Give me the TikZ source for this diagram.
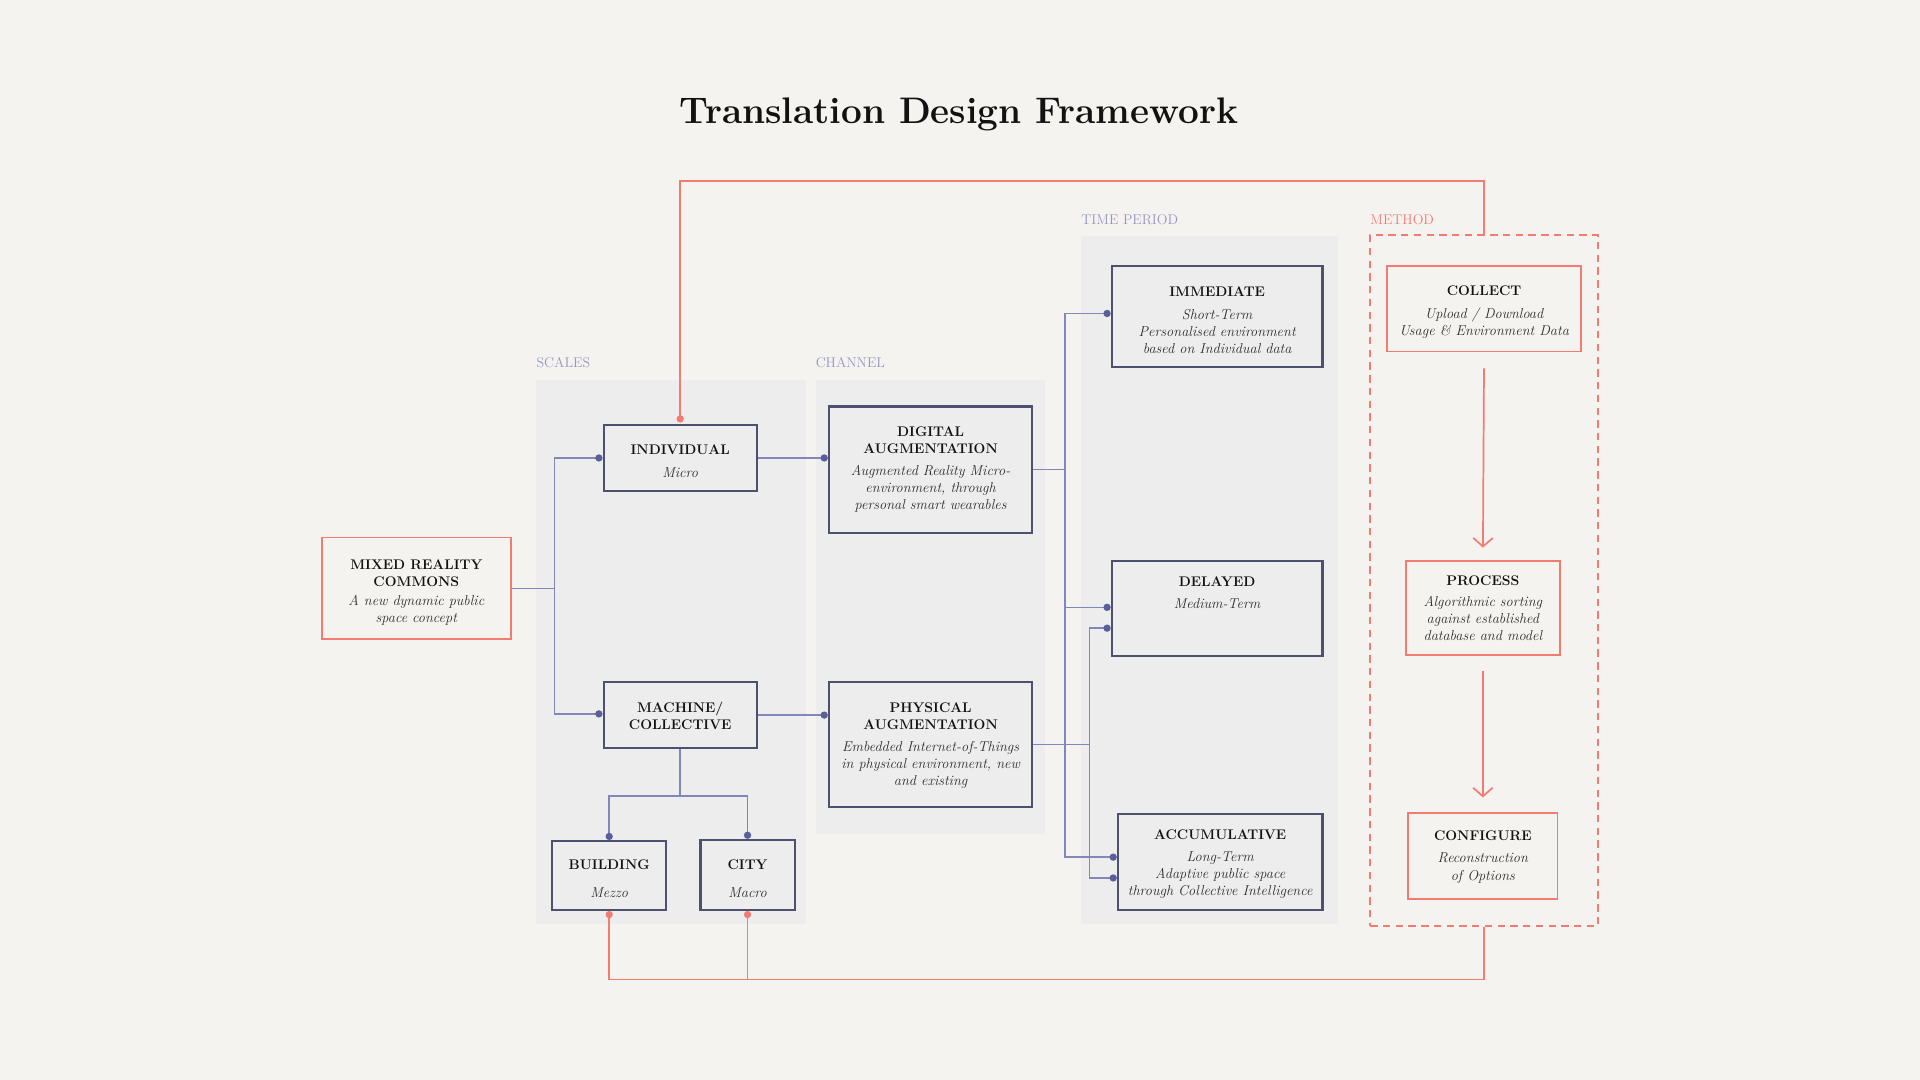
\documentclass[tikz,border=0pt]{standalone}
\usepackage{fontspec}
\usetikzlibrary{calc,arrows.meta}
\definecolor{bg}{HTML}{F4F3F0}
\definecolor{panel}{HTML}{EDEDED}
\definecolor{navy}{HTML}{4E5070}
\definecolor{linec}{HTML}{8386B8}
\definecolor{dotc}{HTML}{5A5E9A}
\definecolor{salmon}{HTML}{F27C72}
\definecolor{labc}{HTML}{9597C0}
\definecolor{ink}{HTML}{121212}
\definecolor{subink}{HTML}{2E2E2E}
\newcommand{\hd}[1]{{\fontsize{11.4}{14}\selectfont\bfseries\color{ink}#1}}
\newcommand{\sub}[1]{{\fontsize{11.7}{14}\selectfont\itshape\color{subink}#1}}
\newcommand{\sh}[1]{\rule{0pt}{\dimexpr7.8pt+#1pt*2\relax}}
\begin{document}
\begin{tikzpicture}[x=1pt,y=-1pt,
  box/.style={draw=navy, line width=1.8pt, fill=panel, align=center, inner sep=0pt, font=\fontsize{11.7}{14}\selectfont},
  rbox/.style={draw=salmon, line width=1.5pt, fill=bg, align=center, inner sep=0pt, font=\fontsize{11.7}{14}\selectfont},
  sz/.style 2 args={minimum width=#1*1pt, minimum height=#2*1pt},
  conn/.style={draw=linec, line width=1.2pt},
  rconn/.style={draw=salmon, line width=1.4pt},
  plabel/.style={anchor=base west, font=\fontsize{11.5}{14}\selectfont, inner sep=0pt},
  tip/.style={-{Straight Barb[length=7pt,width=16pt]}},
]
\useasboundingbox (0,0) rectangle (1568,882);
\fill[bg] (0,0) rectangle (1568,882);

% title
\node[font=\fontsize{30.2}{34}\selectfont\bfseries, text=ink, inner sep=0pt, anchor=base] (title) at (783,101) {Translation Design Framework};

% panels
\fill[panel] (438,310) rectangle (658,755);
\fill[panel] (666,310) rectangle (853,681);
\fill[panel] (883,193) rectangle (1093,755);
\node[plabel, text=labc] (lscales) at (438,300) {SCALES};
\node[plabel, text=labc] (lchannel) at (666,300) {CHANNEL};
\node[plabel, text=labc] (ltime) at (883,183) {TIME PERIOD};
\node[plabel, text=salmon] (lmethod) at (1119,183) {METHOD};

% method frame
\node[draw=salmon, dash pattern=on 6pt off 4.4pt, line width=1.4pt, sz={186}{564}] (meth) at (1212,474) {};

% boxes
\node[rbox, sz={154}{83}] (mrc) at (340,480.5) {\sh{3.5}\hd{MIXED REALITY}\\\hd{COMMONS}\\[2pt]\sub{A new dynamic public}\\\sub{space concept}};
\node[box, sz={125}{54}] (ind) at (555.5,374) {\sh{2.5}\hd{INDIVIDUAL}\\[5pt]\sub{Micro}};
\node[box, sz={125}{54}] (mac) at (555.5,584) {\sh{1}\hd{MACHINE/}\\\hd{COLLECTIVE}};
\node[box, sz={93}{56}] (bld) at (497.5,715) {\sh{3}\hd{BUILDING}\\[9pt]\sub{Mezzo}};
\node[box, sz={77}{57}] (city) at (610.5,714.5) {\sh{3}\hd{CITY}\\[9pt]\sub{Macro}};
\node[box, sz={166}{103}] (dig) at (760,383.5) {\sh{0}\hd{DIGITAL}\\\hd{AUGMENTATION}\\[4pt]\sub{Augmented Reality Micro-}\\\sub{environment, through}\\\sub{personal smart wearables}};
\node[box, sz={166}{102}] (phy) at (760,608) {\sh{1}\hd{PHYSICAL}\\\hd{AUGMENTATION}\\[4pt]\sub{Embedded Internet-of-Things}\\\sub{in physical environment, new}\\\sub{and existing}};
\node[box, sz={172}{83}] (imm) at (994,258.5) {\sh{3}\hd{IMMEDIATE}\\[5pt]\sub{Short-Term}\\\sub{Personalised environment}\\\sub{based on Individual data}};
\node[box, sz={172}{78}] (del) at (994,497) {};
\node[anchor=north, align=center, inner sep=0pt, font=\fontsize{11.7}{14}\selectfont] (delt) at ($(del.north)+(0,14)$) {\hd{DELAYED}\\[4pt]\sub{Medium-Term}};
\node[box, sz={167}{78}] (acc) at (996.5,704) {\sh{2}\hd{ACCUMULATIVE}\\[3.5pt]\sub{Long-Term}\\\sub{Adaptive public space}\\\sub{through Collective Intelligence}};
\node[rbox, sz={158}{70}] (col) at (1212,252) {\sh{3}\hd{COLLECT}\\[5pt]\sub{Upload / Download}\\\sub{Usage \& Environment Data}};
\node[rbox, sz={126}{77}] (pro) at (1211,496.5) {\sh{0.5}\hd{PROCESS}\\[3pt]\sub{Algorithmic sorting}\\\sub{against established}\\\sub{database and model}};
\node[rbox, sz={122}{70}] (cfg) at (1211,699) {\sh{1}\hd{CONFIGURE}\\[4pt]\sub{Reconstruction}\\\sub{of Options}};

% dot coordinates
\coordinate (dInd) at ($(ind.west)+(-3,0)$);
\coordinate (dMac) at ($(mac.west)+(-3,-1)$);
\coordinate (dDig) at ($(dig.west |- ind.east)+(-3,0)$);
\coordinate (dPhy) at ($(phy.west |- mac.east)+(-3,0)$);
\coordinate (dBld) at ($(bld.north)+(0,-3)$);
\coordinate (dCity) at ($(city.north)+(0,-3)$);
\coordinate (dImm) at ($(imm.west)+(-3,-2.5)$);
\coordinate (dDelA) at ($(del.west)+(-3,-1)$);
\coordinate (dDelB) at ($(del.west)+(-3,16)$);
\coordinate (dAccA) at ($(acc.west)+(-3,-4)$);
\coordinate (dAccB) at ($(acc.west)+(-3,13)$);
\coordinate (rInd) at ($(ind.north)+(0,-4)$);
\coordinate (rBld) at ($(bld.south)+(0,3)$);
\coordinate (rCity) at ($(city.south)+(0,3)$);

% blue connectors
\draw[conn] (mrc.east) -- ++(35,0) coordinate (jm);
\draw[conn] (jm) |- (dInd);
\draw[conn] (jm) |- (dMac);
\draw[conn] (ind.east) -- (dDig);
\draw[conn] (mac.east |- dPhy) -- (dPhy);
\draw[conn] (mac.south) -- ++(0,38) coordinate (jb);
\draw[conn] (jb) -| (dBld);
\draw[conn] (jb) -| (dCity);
\draw[conn] (dig.east) -- ++(26,0) coordinate (jd);
\draw[conn] (jd) |- (dImm);
\draw[conn] (jd) |- (dDelA);
\draw[conn] (jd) |- (dAccA);
\draw[conn] (phy.east) -- ++(46,0) coordinate (jp);
\draw[conn] (jp) |- (dDelB);
\draw[conn] (jp) |- (dAccB);
\foreach \p in {dInd,dMac,dDig,dPhy,dBld,dCity,dImm,dDelA,dDelB,dAccA,dAccB}
  \fill[dotc] (\p) circle (3pt);

% red connectors
\draw[rconn] (rInd) -- ++(0,-194) -| (meth.north);
\draw[rconn] (rBld) -- ++(0,53) -| (meth.south);
\draw[rconn] (rCity) -- ($(city.south)+(0,56)$);
\foreach \p in {rInd,rBld,rCity}
  \fill[salmon] (\p) circle (3pt);
\draw[rconn, tip, shorten <=13pt, shorten >=10pt] (col.south) -- (pro.north);
\draw[rconn, tip, shorten <=12pt, shorten >=12pt] (pro.south) -- (cfg.north);
\end{tikzpicture}
\end{document}
